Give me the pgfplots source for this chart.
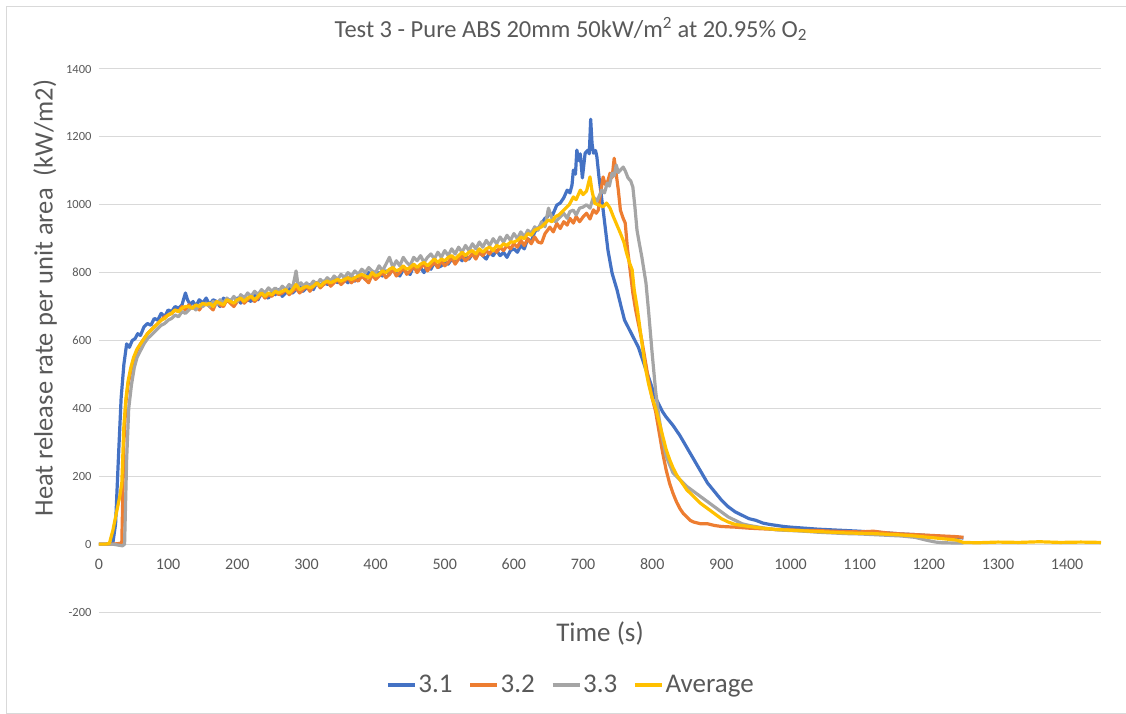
\documentclass[border=0pt]{standalone}
\usepackage{fontspec}
\setmainfont{Carlito}
\usepackage{pgfplots}
\pgfplotsset{compat=1.18}
\definecolor{c1}{HTML}{4472C4}
\definecolor{c2}{HTML}{ED7D31}
\definecolor{c3}{HTML}{A5A5A5}
\definecolor{c4}{HTML}{FFC000}
\definecolor{txt}{HTML}{595959}
\definecolor{grd}{HTML}{D9D9D9}
\begin{document}
\begin{tikzpicture}
\path[use as bounding box] (-99pt,-102pt) rectangle (1027pt,612pt);
\draw[grd, line width=1pt] (1027pt,605pt) -- (-92pt,605pt) -- (-92pt,-101pt) -- (1027pt,-101pt);
\begin{axis}[
  scale only axis, width=1002pt, height=543pt,
  xmin=0, xmax=1449, ymin=-200, ymax=1400,
  enlargelimits=false,
  axis x line=middle, axis y line=left,
  hide obscured x ticks=false, hide obscured y ticks=false,
  axis line style={draw=none},
  major tick length=0pt,
  xtick={0,100,...,1400}, ytick={-200,0,...,1400},
  ymajorgrids, grid style={grd, line width=1pt},
  /pgf/number format/1000 sep={},
  /pgf/number format/assume math mode=true,
  xticklabel style={font=\fontsize{16}{18}\selectfont, text=txt, anchor=north, yshift=-11pt},
  yticklabel style={font=\fontsize{12.5}{14}\selectfont, text=txt, anchor=east, xshift=-4pt},
  title={Test 3 - Pure ABS 20mm 50kW/m\textsuperscript{2} at 20.95\% O\textsubscript{2}},
  title style={at={(axis description cs:0.471,1.0626)}, anchor=center, font=\fontsize{24.5}{28}\selectfont, text=txt},
  xlabel={Time (s)},
  xlabel style={at={(axis description cs:0.5,-0.0387)}, anchor=center, font=\fontsize{27}{30}\selectfont, text=txt},
  ylabel={Heat release rate per unit area\ \ (kW/m2)},
  ylabel style={at={(axis description cs:-0.0539,0.578)}, anchor=center, rotate=0, font=\fontsize{26.5}{30}\selectfont, text=txt},
  legend columns=4,
  legend style={at={(axis description cs:0.471,-0.1344)}, anchor=center, draw=none, fill=none,
    font=\fontsize{27}{30}\selectfont, text=txt,
    /tikz/every even column/.append style={column sep=14pt},
    nodes={inner sep=2pt}},
  legend image code/.code={\draw[#1, line width=3.2pt] (0pt,0pt) -- (27pt,0pt);},
  every axis plot/.append style={line width=3.2pt, line join=round},
]
\addplot[c1] coordinates {
(0,0) (10,0) (20,2) (24,60) (28,250) (32,430) (36,530) (40,590) (44,580) (48,600) (52,605) (56,620) (60,615) (65,640) (70,650) (75,645) (80,665) (85,660) (90,680) (95,670) (100,690) (105,685) (110,700) (115,695) (120,705) (125,740) (128,720) (132,705) (136,715) (140,700) (145,720) (150,710) (155,725) (160,705) (165,720) (170,715) (175,700) (180,725) (185,715) (190,720) (195,705) (200,725) (205,710) (210,730) (215,720) (220,715) (225,735) (230,720) (235,740) (240,730) (245,725) (250,745) (255,735) (260,750) (265,730) (270,740) (275,755) (280,740) (285,750) (290,760) (295,745) (300,755) (305,765) (310,750) (315,770) (320,760) (325,775) (330,765) (335,770) (340,785) (345,770) (350,775) (355,780) (360,770) (365,790) (370,775) (375,785) (380,795) (385,780) (390,800) (395,790) (400,785) (405,800) (410,790) (415,805) (420,795) (425,810) (430,800) (435,790) (440,810) (445,800) (450,795) (455,820) (460,805) (465,815) (470,800) (475,820) (480,810) (485,830) (490,815) (495,820) (500,835) (505,825) (510,840) (515,830) (520,845) (525,835) (530,850) (535,840) (540,855) (545,845) (550,860) (555,850) (560,840) (565,860) (570,850) (575,865) (580,850) (585,860) (590,845) (595,865) (600,870) (605,860) (610,880) (615,870) (620,900) (625,890) (630,920) (635,930) (640,945) (645,960) (648,964) (652,975) (656,970) (662,999) (667,1005) (672,1020) (677,1043) (681,1035) (684,1058) (686,1102) (689,1090) (691,1161) (694,1130) (696,1150) (699,1079) (703,1152) (707,1161) (709,1150) (711,1252) (713,1180) (715,1152) (718,1160) (720,1141) (723,1082) (729,985) (736,866) (742,798) (749,750) (755,700) (760,660) (765,640) (770,620) (775,600) (780,580) (785,550) (790,520) (795,490) (800,460) (805,430) (810,410) (815,390) (820,375) (830,350) (840,320) (850,285) (860,250) (870,215) (880,180) (890,155) (900,130) (910,110) (920,95) (930,85) (940,75) (950,70) (960,62) (970,58) (980,55) (990,52) (1000,50) (1020,47) (1040,44) (1060,42) (1080,40) (1100,38) (1120,35) (1140,33) (1160,30) (1180,28) (1200,25) (1220,22) (1240,20) (1250,18)
};
\addlegendentry{3.1}
\addplot[c2] coordinates {
(0,0) (10,0) (20,0) (30,2) (33,5) (36,300) (39,420) (42,470) (46,510) (50,540) (55,570) (60,590) (65,605) (70,620) (75,630) (80,640) (85,650) (90,660) (95,670) (100,675) (105,680) (110,690) (115,685) (120,700) (125,690) (130,705) (135,695) (140,700) (145,690) (150,705) (155,710) (160,700) (165,690) (170,715) (175,705) (180,700) (185,720) (190,710) (195,700) (200,715) (205,725) (210,710) (215,720) (220,730) (225,715) (230,725) (235,740) (240,725) (245,735) (250,730) (255,745) (260,735) (265,740) (270,750) (275,735) (280,745) (285,755) (290,740) (295,750) (300,760) (305,745) (310,760) (315,770) (320,755) (325,765) (330,775) (335,760) (340,770) (345,780) (350,765) (355,775) (360,785) (365,770) (370,780) (375,775) (380,790) (385,780) (390,770) (395,795) (400,780) (405,790) (410,800) (415,785) (420,795) (425,810) (430,790) (435,800) (440,815) (445,795) (450,805) (455,820) (460,800) (465,815) (470,825) (475,805) (480,820) (485,830) (490,815) (495,835) (500,820) (505,830) (510,845) (515,825) (520,840) (525,850) (530,835) (535,845) (540,855) (545,840) (550,860) (555,850) (560,865) (565,855) (570,870) (575,860) (580,875) (585,865) (590,880) (595,870) (600,885) (605,875) (610,895) (615,880) (620,900) (625,885) (630,905) (635,890) (640,887) (645,915) (652,934) (657,920) (662,945) (667,930) (672,950) (677,940) (681,960) (686,946) (690,965) (695,950) (700,964) (705,975) (710,958) (715,985) (719,975) (722,984) (725,1030) (729,1082) (732,1060) (735,1064) (739,1093) (742,1080) (745,1137) (748,1090) (751,1043) (754,984) (758,960) (761,946) (764,875) (768,808) (772,740) (776,690) (780,650) (785,600) (790,540) (795,480) (800,430) (805,390) (810,330) (815,270) (820,220) (825,180) (830,150) (835,125) (840,105) (845,90) (850,80) (855,70) (860,65) (870,60) (880,60) (890,55) (900,52) (920,50) (940,47) (960,45) (980,43) (1000,42) (1020,40) (1040,40) (1060,38) (1080,37) (1100,36) (1120,38) (1140,33) (1160,30) (1180,28) (1200,26) (1220,24) (1240,22) (1250,20)
};
\addlegendentry{3.2}
\addplot[c3] coordinates {
(0,0) (10,0) (20,0) (28,-3) (34,-5) (37,0) (40,250) (43,400) (47,470) (51,520) (55,550) (60,570) (65,590) (70,605) (75,615) (80,625) (85,635) (90,645) (95,650) (100,660) (105,665) (110,675) (115,670) (120,685) (125,680) (130,690) (135,700) (140,690) (145,705) (150,700) (155,710) (160,700) (165,715) (170,705) (175,720) (180,710) (185,725) (190,715) (195,730) (200,715) (205,735) (210,725) (215,740) (220,730) (225,745) (230,735) (235,750) (240,740) (245,755) (250,745) (255,755) (260,745) (265,760) (270,750) (275,765) (280,755) (285,805) (288,760) (292,770) (296,760) (300,770) (305,760) (310,775) (315,765) (320,780) (325,770) (330,785) (335,775) (340,790) (345,780) (350,795) (355,785) (360,800) (365,790) (370,805) (375,795) (380,810) (385,800) (390,815) (395,805) (400,800) (405,820) (410,805) (415,825) (420,845) (425,815) (430,835) (435,820) (440,845) (445,830) (450,820) (455,845) (460,835) (465,850) (470,830) (475,845) (480,855) (485,840) (490,860) (495,845) (500,865) (505,850) (510,870) (515,855) (520,875) (525,860) (530,880) (535,865) (540,885) (545,870) (550,890) (555,875) (560,895) (565,880) (570,900) (575,885) (580,905) (585,890) (590,910) (595,895) (600,915) (605,900) (610,920) (615,905) (620,925) (625,915) (630,935) (635,925) (640,950) (645,935) (650,990) (655,960) (660,950) (667,964) (672,975) (677,960) (681,980) (686,984) (690,970) (695,990) (700,993) (705,1000) (710,990) (715,1023) (720,1010) (727,1043) (731,1035) (735,1064) (738,1055) (742,1093) (745,1085) (748,1117) (751,1095) (754,1102) (758,1111) (761,1100) (765,1079) (769,1070) (772,1052) (775,993) (778,925) (781,890) (785,846) (791,769) (795,680) (800,560) (805,450) (810,370) (815,310) (820,260) (830,210) (840,190) (850,170) (860,155) (870,140) (880,125) (890,110) (900,95) (910,80) (920,70) (930,60) (940,55) (960,48) (980,42) (1000,40) (1020,38) (1040,35) (1060,33) (1080,31) (1100,30) (1120,28) (1140,26) (1160,24) (1180,20) (1190,15) (1200,10) (1210,6) (1220,4) (1250,3)
};
\addlegendentry{3.3}
\addplot[c4] coordinates {
(0,0) (10,0) (15,2) (20,40) (25,90) (30,140) (33,180) (36,350) (39,430) (42,480) (46,520) (50,550) (55,575) (60,590) (65,605) (70,620) (75,630) (80,640) (85,650) (90,660) (95,665) (100,675) (105,680) (110,690) (115,685) (120,695) (125,700) (130,700) (135,695) (140,705) (145,700) (150,710) (155,705) (160,710) (165,700) (170,715) (175,710) (180,705) (185,720) (190,715) (195,710) (200,720) (205,725) (210,715) (215,725) (220,730) (225,720) (230,730) (235,740) (240,730) (245,740) (250,735) (255,745) (260,740) (265,745) (270,750) (275,740) (280,750) (285,765) (290,750) (295,755) (300,760) (305,755) (310,760) (315,770) (320,760) (325,770) (330,775) (335,770) (340,775) (345,780) (350,775) (355,780) (360,785) (365,780) (370,785) (375,790) (380,795) (385,790) (390,785) (395,800) (400,790) (405,795) (410,805) (415,800) (420,810) (425,815) (430,805) (435,810) (440,820) (445,810) (450,815) (455,825) (460,815) (465,825) (470,830) (475,820) (480,830) (485,840) (490,830) (495,840) (500,835) (505,845) (510,850) (515,840) (520,850) (525,860) (530,850) (535,860) (540,865) (545,855) (550,870) (555,860) (560,870) (565,875) (570,865) (575,880) (580,875) (585,885) (590,880) (595,890) (600,890) (605,895) (610,905) (615,900) (620,915) (625,910) (630,925) (635,930) (640,935) (645,945) (650,955) (655,950) (660,965) (665,970) (670,980) (675,990) (680,1000) (686,1023) (690,1015) (696,1043) (700,1030) (705,1040) (710,1082) (713,1040) (717,1004) (722,1000) (729,994) (734,1005) (739,990) (744,964) (749,940) (754,916) (759,890) (763,857) (767,830) (771,808) (774,749) (778,700) (782,640) (786,580) (790,520) (795,470) (800,430) (805,400) (810,360) (815,320) (820,280) (825,250) (830,225) (835,205) (840,190) (845,175) (850,160) (860,140) (870,120) (880,105) (890,90) (900,75) (910,65) (920,58) (940,52) (960,47) (980,43) (1000,41) (1020,39) (1040,37) (1060,35) (1080,33) (1100,32) (1120,31) (1140,29) (1160,27) (1180,24) (1200,20) (1220,16) (1240,12) (1250,5) (1270,4) (1300,6) (1330,5) (1360,7) (1390,5) (1420,6) (1449,5)
};
\addlegendentry{Average}
\end{axis}
\end{tikzpicture}
\end{document}
